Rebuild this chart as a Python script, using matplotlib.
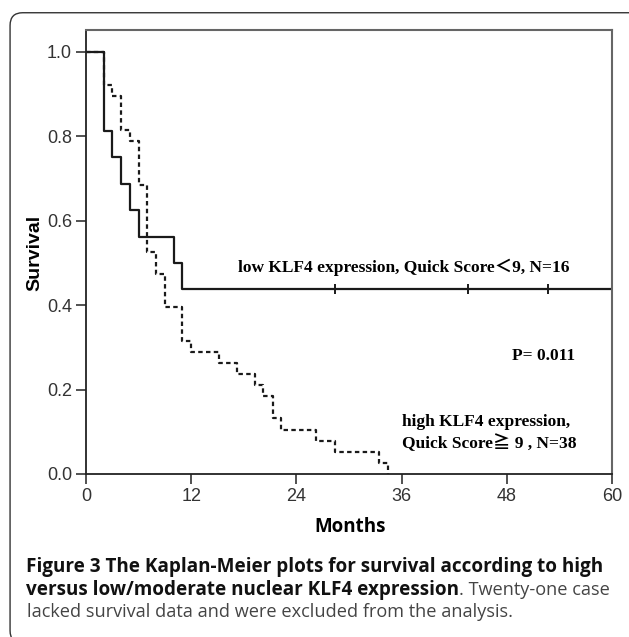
import matplotlib.pyplot as plt
import matplotlib.patches as mpatches

plt.rcParams['font.family'] = ['Liberation Sans', 'DejaVu Sans']

# survival steps
low_t = [0, 2, 3, 4, 5, 6, 10, 11, 60]
low_s = [1.0, 0.8125, 0.75, 0.6875, 0.625, 0.5625, 0.5, 0.4375, 0.4375]
low_cens_t = [28.4, 43.6, 52.7]
low_cens_s = [0.4375, 0.4375, 0.4375]

high_t = [0, 2, 3, 4, 5, 6, 7, 8, 9, 11, 12, 15.2, 17.2, 19.3, 20.2,
          21.3, 22.3, 26.2, 28.4, 33.4, 34.5]
high_s = [1.0, 0.921, 0.895, 0.816, 0.789, 0.684, 0.526, 0.474, 0.395,
          0.316, 0.289, 0.263, 0.237, 0.211, 0.184, 0.132, 0.105, 0.079,
          0.053, 0.026, 0.0]

xticks = [0, 12, 24, 36, 48, 60]
yticks = [0.0, 0.2, 0.4, 0.6, 0.8, 1.0]
ytick_labels = ['0.0', '0.2', '0.4', '0.6', '0.8', '1.0']

low_label = 'low KLF4 expression, Quick Score\uff1c9, N=16'
high_label = 'high KLF4 expression,\nQuick Score\u2267 9 , N=38'
p_label = 'P= 0.011'

cap1 = 'Figure 3 The Kaplan-Meier plots for survival according to high'
cap2_bold = 'versus low/moderate nuclear KLF4 expression'
cap2_reg = '. Twenty-one case'
cap3 = 'lacked survival data and were excluded from the analysis.'

serif = ['Liberation Serif', 'Noto Sans CJK SC', 'DejaVu Serif']
bold_size = 13.6
reg_size = 13.1

fig = plt.figure(figsize=(6.29, 6.37), dpi=100)

# rounded frame, only top and left show
box = mpatches.FancyBboxPatch((0.016, -0.01), 1.05, 0.99,
                              boxstyle='round,pad=0,rounding_size=0.02',
                              transform=fig.transFigure, fill=False,
                              edgecolor='#333333', linewidth=1.0)
fig.patches.append(box)

ax = fig.add_axes([0.1367, 0.2559, 0.9730 - 0.1367, 0.9529 - 0.2559])

ax.step(low_t, low_s, where='post', color='#1a1a1a', linewidth=1.6)
ax.step(high_t, high_s, where='post', color='#1a1a1a', linewidth=1.6,
        linestyle=(0, (2, 1.5)))
ax.plot(low_cens_t, low_cens_s, linestyle='none', marker='|', color='#1a1a1a',
        markersize=7, markeredgewidth=1.4)

ax.set_xlim(0, 60)
ax.set_ylim(0, 1.052)
ax.set_xticks(xticks)
ax.set_yticks(yticks)
ax.set_yticklabels(ytick_labels)
ax.tick_params(direction='out', length=7, width=1.2, labelsize=13,
               labelcolor='#333333', color='#333333', pad=3)
for s in ['left', 'bottom']:
    ax.spines[s].set_color('#222222')
    ax.spines[s].set_linewidth(1.3)
for s in ['top', 'right']:
    ax.spines[s].set_color('#666666')
    ax.spines[s].set_linewidth(1.5)

ax.text(17.3, 0.49, low_label, family=serif, fontweight='bold', fontsize=12.5,
        va='center', ha='left')
ax.text(48.6, 0.28, p_label, family=serif, fontweight='bold', fontsize=12.5,
        va='center', ha='left')
ax.text(36.1, 0.097, high_label, family=serif, fontweight='bold', fontsize=12.5,
        va='center', ha='left', linespacing=1.3)

fig.text(35 / 629, 1 - 253 / 637, 'Survival', rotation=90, fontsize=14,
         fontweight='bold', family='Liberation Sans', ha='center', va='center')
fig.text(350 / 629, 1 - 527 / 637, 'Months', fontsize=13.5, fontweight='bold',
         family='Open Sans', ha='center', va='center')

# caption
fig.text(26 / 629, 1 - 567 / 637, cap1, fontsize=bold_size, fontweight='bold',
         family='Open Sans', ha='left', va='center', color='#111111')
t2 = fig.text(26 / 629, 1 - 590 / 637, cap2_bold, fontsize=bold_size,
              fontweight='bold', family='Open Sans', ha='left', va='center',
              color='#111111')
ax.annotate(cap2_reg, xy=(1, 0.5), xycoords=t2, fontsize=reg_size,
            family='Open Sans', color='#444444', va='center', ha='left',
            annotation_clip=False)
fig.text(27 / 629, 1 - 612 / 637, cap3, fontsize=reg_size, family='Open Sans',
         ha='left', va='center', color='#444444')

fig.savefig('out.png', dpi=100)
